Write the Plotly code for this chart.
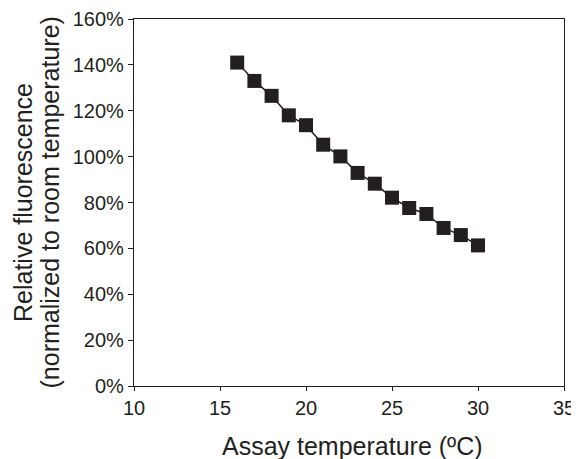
import plotly.graph_objects as go

# Assay temperature (ºC) and relative fluorescence (%)
temps = [16, 17, 18, 19, 20, 21, 22, 23, 24, 25, 26, 27, 28, 29, 30]
fluor = [141, 133, 126.5, 118, 113.7, 105.2, 100.1, 92.9, 88.2, 82.1, 77.6, 75, 68.9, 65.8, 61.3]
x_ticks = [10, 15, 20, 25, 30, 35]
y_ticks = [0, 20, 40, 60, 80, 100, 120, 140, 160]

ink = '#231f20'

fig = go.Figure()
fig.add_trace(go.Scatter(x=temps, y=fluor, mode='lines+markers',
                         line=dict(color=ink, width=1.5),
                         marker=dict(symbol='square', size=14, color=ink),
                         showlegend=False))

fig.update_xaxes(range=[10, 35], tickvals=x_ticks,
                 ticks='outside', ticklen=4, tickcolor=ink, automargin=False,
                 showline=True, linecolor=ink, linewidth=1.2, mirror=True,
                 showgrid=False, zeroline=False,
                 tickfont=dict(size=20, color=ink))

fig.update_yaxes(range=[0, 160], tickvals=y_ticks,
                 ticktext=[f'{v}%' for v in y_ticks],
                 ticks='outside', ticklen=5, tickcolor=ink, automargin=False,
                 showline=True, linecolor=ink, linewidth=1.2, mirror=True,
                 showgrid=False, zeroline=False,
                 tickfont=dict(size=20, color=ink))

# axis titles as annotations for exact placement
fig.add_annotation(text='Assay temperature (ºC)', xref='paper', yref='paper',
                   x=0.507, y=0, xanchor='center', yanchor='middle', yshift=-60,
                   showarrow=False, font=dict(size=25, color=ink))
fig.add_annotation(text='Relative fluorescence', xref='paper', yref='paper',
                   x=0, y=0.5, xanchor='center', yanchor='middle', xshift=-111.5,
                   textangle=-90, showarrow=False, font=dict(size=25, color=ink))
fig.add_annotation(text='(normalized to room temperature)', xref='paper', yref='paper',
                   x=0, y=0.5, xanchor='center', yanchor='middle', xshift=-85,
                   textangle=-90, showarrow=False, font=dict(size=25, color=ink))

# page body has an 8px margin, so the figure is a bit smaller than the window
fig.update_layout(width=571, height=451,
                  margin=dict(l=126, r=15, t=11, b=73),
                  plot_bgcolor='white', paper_bgcolor='white',
                  font=dict(family='Liberation Sans, Arial, sans-serif', color=ink))

fig.write_html("out.html")
